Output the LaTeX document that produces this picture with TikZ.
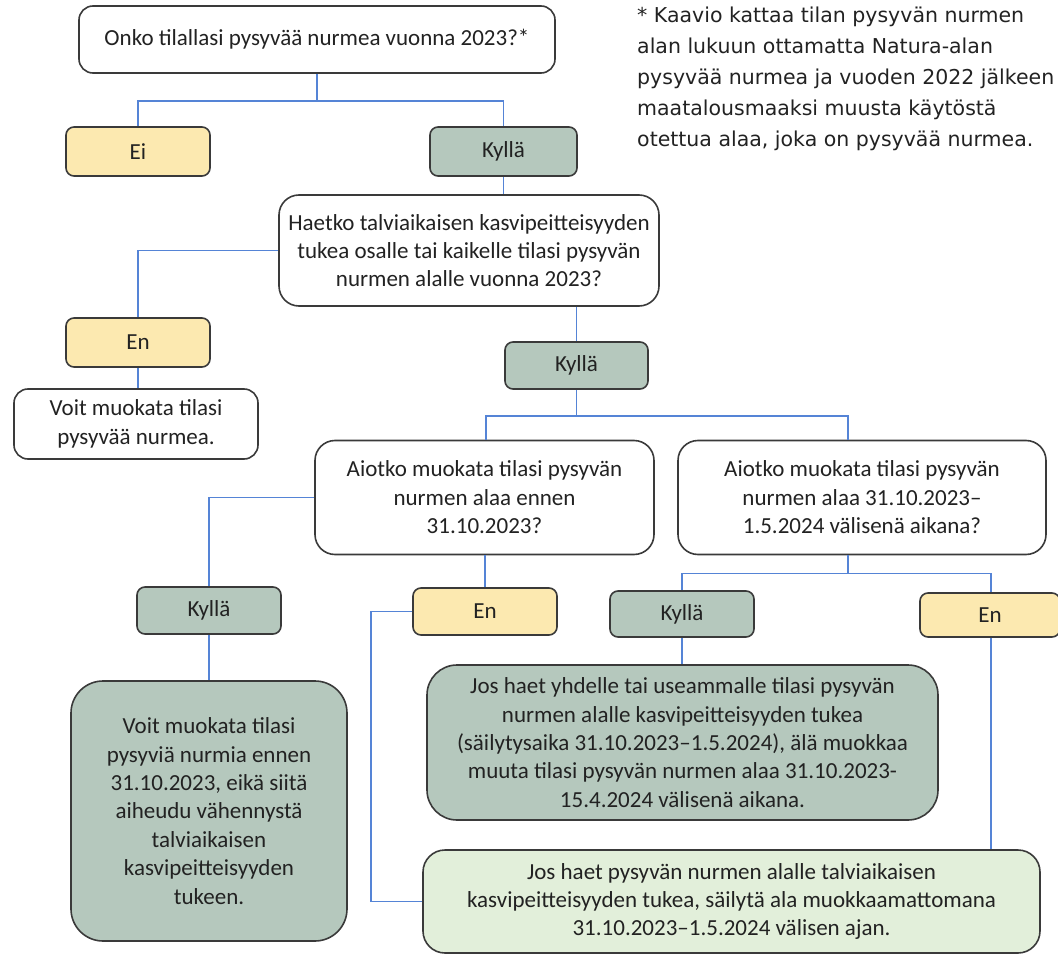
\documentclass[tikz,border=0pt]{standalone}
\usepackage{fontspec}
\setmainfont{Carlito}
\newfontfamily\notefont{DejaVu Sans}
\usetikzlibrary{calc}
\definecolor{ylw}{HTML}{FCE9B0}
\definecolor{gg}{HTML}{B5C8BD}
\definecolor{lg}{HTML}{E2EFDA}
\definecolor{bord}{HTML}{3A3A3A}
\definecolor{conn}{HTML}{5584D6}
\definecolor{txt}{HTML}{222222}
\tikzset{
  base/.style={draw=bord, line width=1.6pt, rectangle, inner sep=0pt, align=center, text=txt,
    font=\fontsize{23}{28.4}\selectfont},
  qbox/.style={base, fill=white, rounded corners=20pt},
  ybox/.style={base, fill=ylw, rounded corners=8pt},
  gbox/.style={base, fill=gg, rounded corners=8pt},
  link/.style={draw=conn, line width=1.6pt},
}
\begin{document}
\begin{tikzpicture}[x=1pt,y=-1pt]
\useasboundingbox (0,0) rectangle (1058,955);
% nodes
\node[qbox, rounded corners=14pt, minimum width=476pt, minimum height=67pt] (q1) at (317,39.5) {Onko tilallasi pysyvää nurmea vuonna 2023?*};
\node[ybox, minimum width=144pt, minimum height=49pt] (ei) at (138,151.5) {Ei};
\node[gbox, minimum width=147pt, minimum height=49pt] (ky1) at (503.5,151.5) {Kyllä};
\node[qbox, minimum width=380pt, minimum height=111pt] (q2) at (469,250.5) {Haetko talviaikaisen kasvipeitteisyyden\\tukea osalle tai kaikelle tilasi pysyvän\\nurmen alalle vuonna 2023?};
\node[ybox, minimum width=144pt, minimum height=49pt] (en1) at (138,342.5) {En};
\node[qbox, rounded corners=14pt, minimum width=244pt, minimum height=70pt] (voit) at (136,424) {Voit muokata tilasi\\pysyvää nurmea.};
\node[gbox, minimum width=143pt, minimum height=47pt] (ky2) at (576.5,365.5) {Kyllä};
\node[qbox, minimum width=339pt, minimum height=114pt] (q3) at (484.5,497.5) {Aiotko muokata tilasi pysyvän\\nurmen alaa ennen\\31.10.2023?};
\node[qbox, minimum width=368pt, minimum height=114pt] (q4) at (862,497.5) {Aiotko muokata tilasi pysyvän\\nurmen alaa 31.10.2023–\\1.5.2024 välisenä aikana?};
\node[gbox, minimum width=144pt, minimum height=47pt] (ky3) at (209,610.5) {Kyllä};
\node[base, fill=gg, rounded corners=32pt, minimum width=276pt, minimum height=260pt] (b5) at (209,811) {Voit muokata tilasi\\pysyviä nurmia ennen\\31.10.2023, eikä siitä\\aiheudu vähennystä\\talviaikaisen\\kasvipeitteisyyden\\tukeen.};
\node[ybox, minimum width=144pt, minimum height=47pt] (en2) at (485,611.5) {En};
\node[gbox, minimum width=144pt, minimum height=46pt] (ky4) at (682,614) {Kyllä};
\node[ybox, minimum width=140pt, minimum height=44pt] (en3) at (990,615) {En};
\node[base, fill=gg, rounded corners=30pt, minimum width=511pt, minimum height=155pt] (b6) at (682.5,742.5) {Jos haet yhdelle tai useammalle tilasi pysyvän\\nurmen alalle kasvipeitteisyyden tukea\\(säilytysaika 31.10.2023–1.5.2024), älä muokkaa\\muuta tilasi pysyvän nurmen alaa 31.10.2023-\\15.4.2024 välisenä aikana.};
\node[base, fill=lg, rounded corners=22pt, minimum width=617pt, minimum height=103pt] (b7) at (731.5,901.5) {Jos haet pysyvän nurmen alalle talviaikaisen\\kasvipeitteisyyden tukea, säilytä ala muokkaamattomana\\31.10.2023–1.5.2024 välisen ajan.};
\node[anchor=north west, align=left, inner sep=0pt, text=txt, font=\notefont\fontsize{20.5}{31}\selectfont] (note) at (637,7) {* Kaavio kattaa tilan pysyvän nurmen\\alan lukuun ottamatta Natura-alan\\pysyvää nurmea ja vuoden 2022 jälkeen\\maatalousmaaksi muusta käytöstä\\otettua alaa, joka on pysyvää nurmea.};
% connectors
\draw[link] (q1.south) -- ++(0,27) -| (ei.north);
\draw[link] (q1.south) -- ++(0,27) -| (ky1.north);
\draw[link] (ky1.south) -- (ky1.south |- q2.north);
\draw[link] (q2.west) -| (en1.north);
\draw[link] (en1.south) -- (en1.south |- voit.north);
\draw[link] (ky2.north |- q2.south) -- (ky2.north);
\draw[link] (ky2.south) -- ++(0,26) -| ([xshift=1.5pt]q3.north);
\draw[link] (ky2.south) -- ++(0,26) -| ([xshift=-14pt]q4.north);
\draw[link] (q3.west) -| (ky3.north);
\draw[link] (ky3.south) -- (ky3.south |- b5.north);
\draw[link] (en2.north |- q3.south) -- (en2.north);
\draw[link] (en2.west) -- ++(-41,0) coordinate (c1) |- (b7.west);
\draw[link] ([xshift=-14pt]q4.south) -- ++(0,18) -| (ky4.north);
\draw[link] ([xshift=-14pt]q4.south) -- ++(0,18) -| ([xshift=1pt]en3.north);
\draw[link] (ky4.south) -- (ky4.south |- b6.north);
\draw[link] ([xshift=1pt]en3.south) -- ([xshift=1pt]en3.south |- b7.north);
\end{tikzpicture}
\end{document}
